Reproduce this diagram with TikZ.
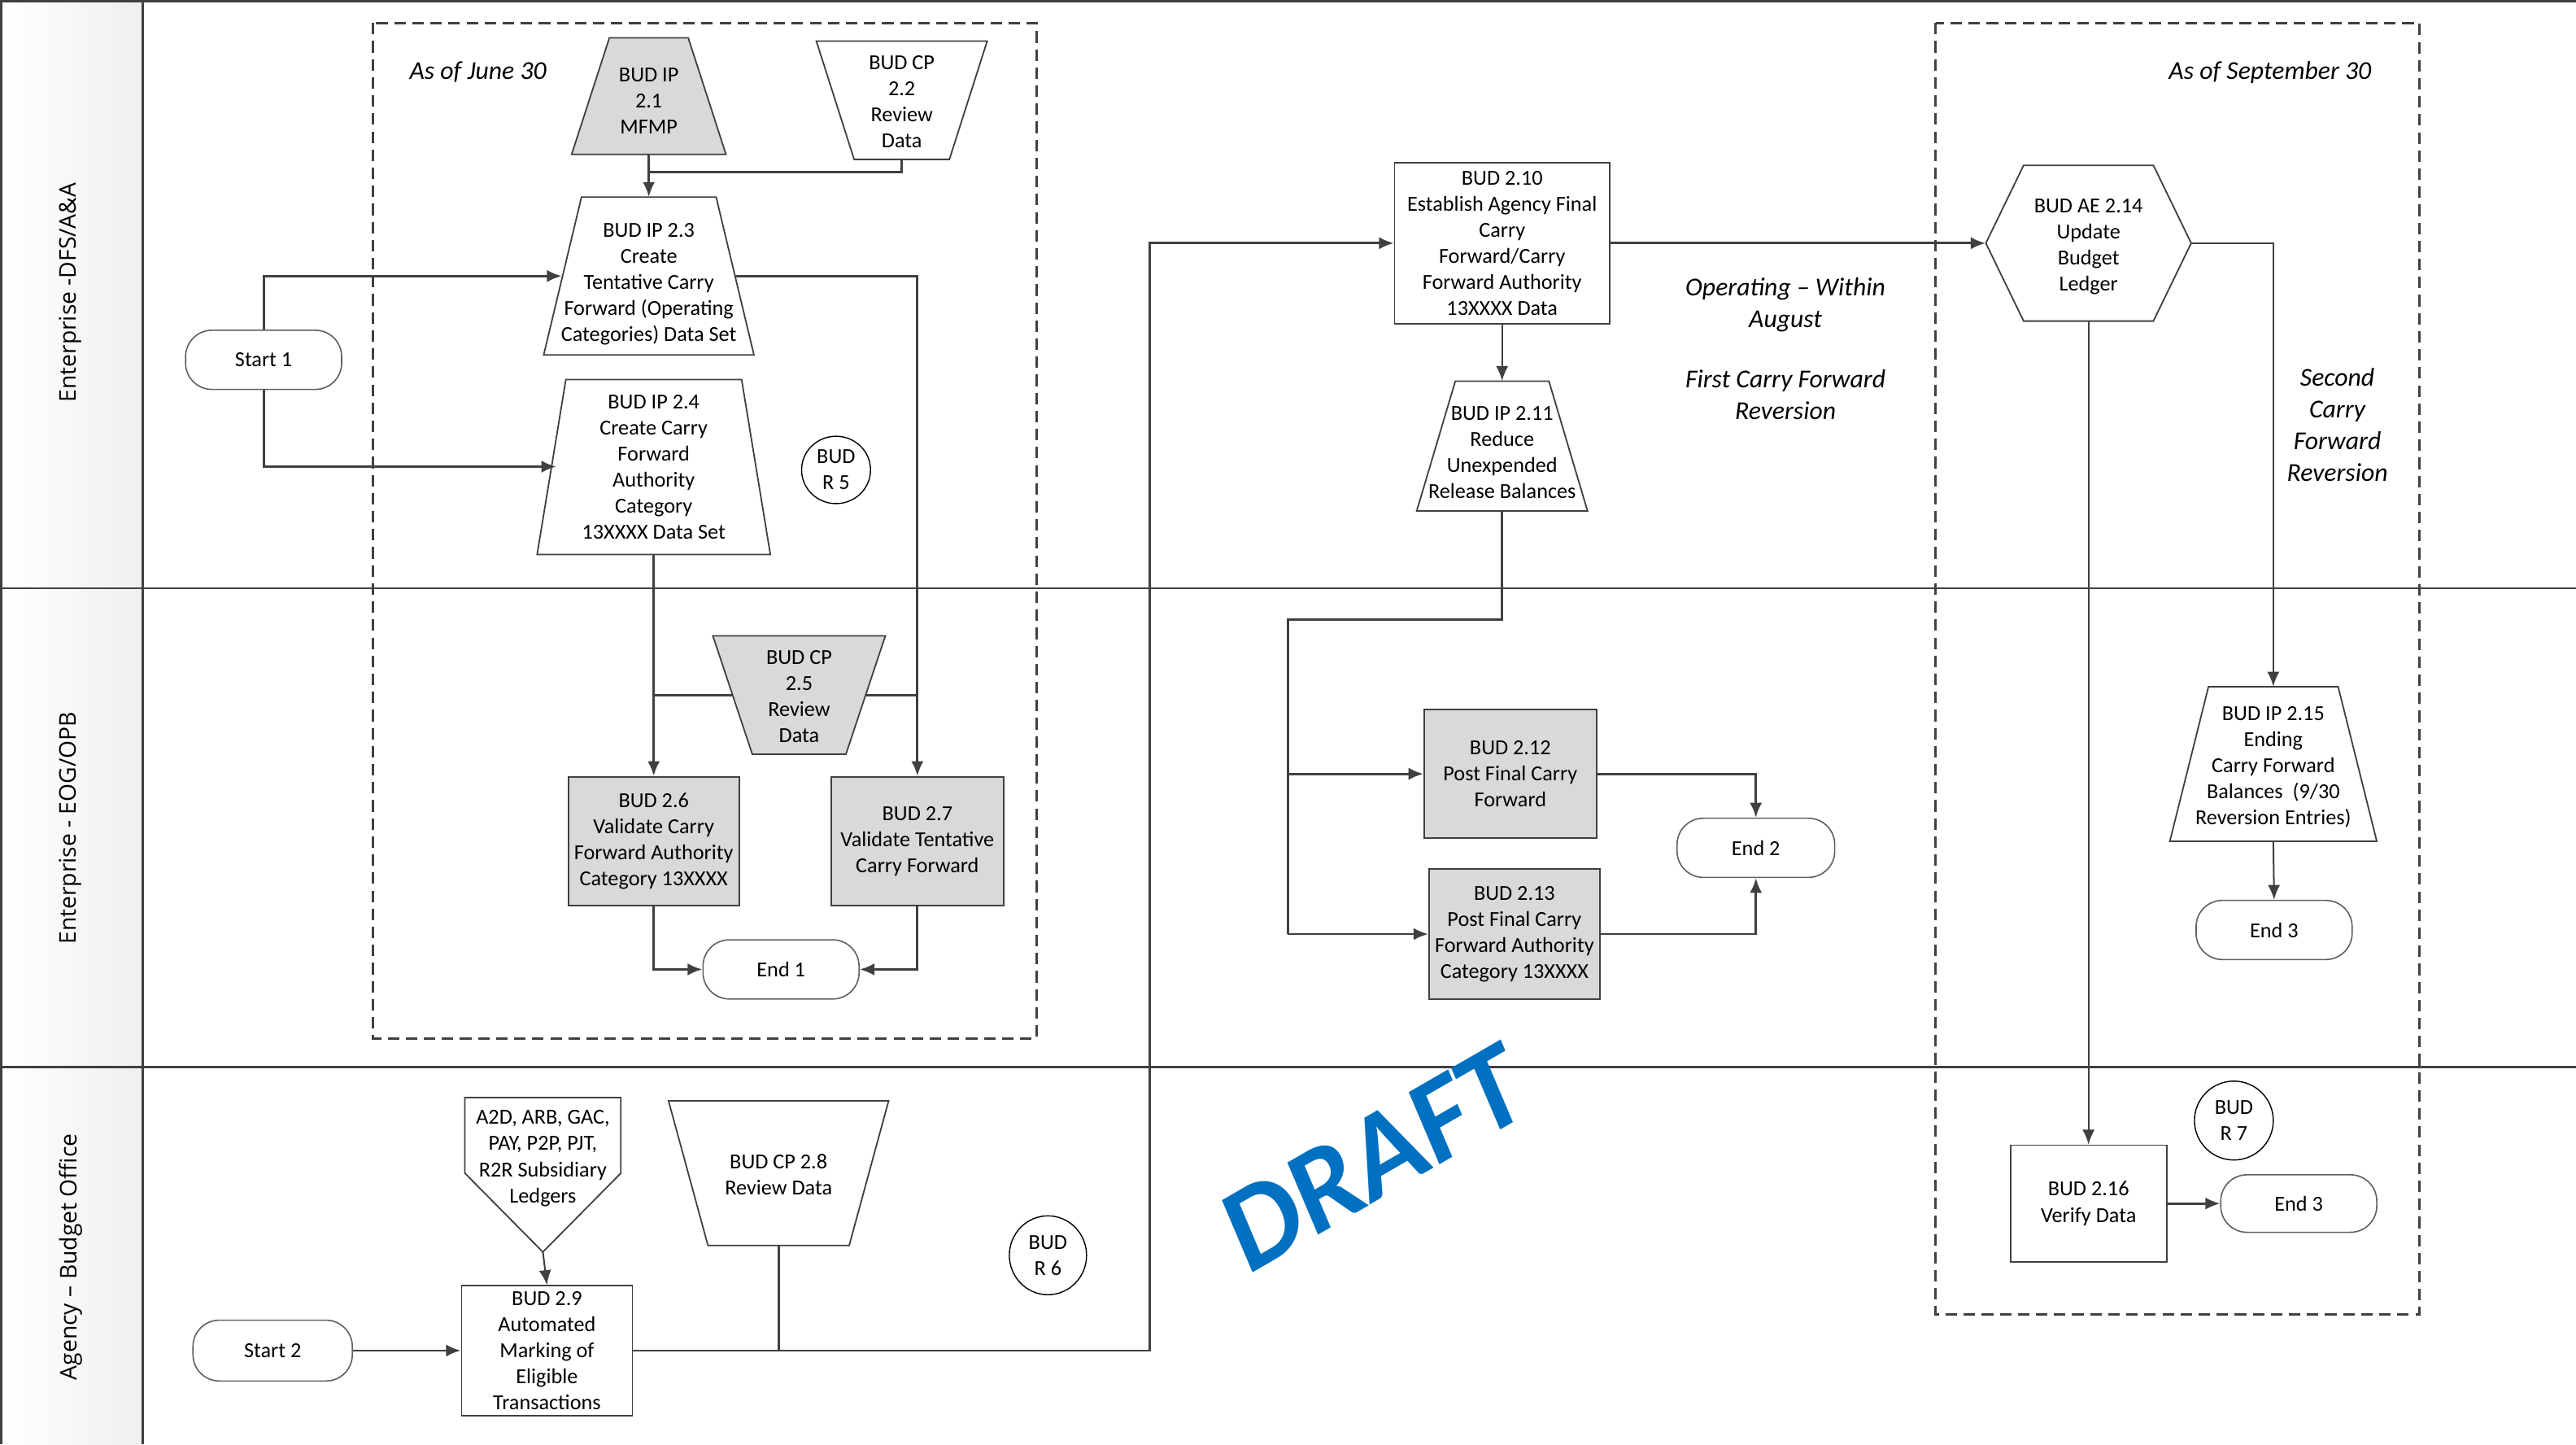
\documentclass[tikz,border=0pt]{standalone}
\usepackage{fontspec}
\setmainfont{Carlito}
\newfontfamily\lanefont[Ligatures=TeX]{Open Sans}
\usetikzlibrary{arrows.meta,calc,shapes.geometric}
\definecolor{ln}{HTML}{404040}
\definecolor{gfill}{HTML}{D9D9D9}
\definecolor{draftblue}{HTML}{0070C0}
\tikzset{
  txt/.style={inner sep=0pt, align=center, font=\fontsize{13}{15.9}\selectfont},
  shp/.style={draw=ln, line width=0.9pt},
  box/.style={txt, shp},
  term/.style={txt, draw=gray!75!black, line width=0.8pt, rounded corners=16pt, fill=white},
  circ/.style={txt, ellipse, draw=black, line width=0.7pt},
  conn/.style={draw=ln, line width=1.4pt},
  thinconn/.style={draw=ln, line width=1pt},
  arr/.style={-{Latex[length=9pt,width=7.5pt]}},
  lanel/.style={font=\lanefont\fontsize{14}{16}\selectfont, rotate=90, inner sep=0pt},
  anno/.style={align=center, inner sep=0pt, font=\fontsize{15.7}{19.3}\selectfont\itshape},
  lane/.style={draw=ln, line width=1.3pt},
  dbox/.style={draw=ln, line width=1.4pt, dash pattern=on 7pt off 4pt},
}
% [text offset]{name}{cx}{cy}{top width}{bottom width}{height}{fill}{text}
\newcommand\mytrap[9][0]{%
  \filldraw[shp,fill=#8] ({#3-#5/2},{#4-#7/2}) -- ({#3+#5/2},{#4-#7/2}) -- ({#3+#6/2},{#4+#7/2}) -- ({#3-#6/2},{#4+#7/2}) -- cycle;
  \node[txt,minimum width={#6},minimum height={#7}] (#2) at (#3,#4) {};
  \node[txt] (#2-t) at (#3,{#4+#1}) {#9};}
\begin{document}
\begin{tikzpicture}[x=1pt,y=-1pt]
\useasboundingbox (0,0) rectangle (1568.3,879);
% lanes
\shade[left color=white, right color=gray!12] (0,0) rectangle (87,879);
\draw[lane] (0,0.7) -- (1568.3,0.7);
\draw[lane] (0.6,0) -- (0.6,879);
\draw[lane] (87,0) -- (87,879);
\draw[lane] (0,358) -- (1568.3,358);
\draw[lane] (0,649.5) -- (1568.3,649.5);
\node[lanel] (lane1) at (43,178) {Enterprise -DFS/A\&A};
\node[lanel] (lane2) at (43,504) {Enterprise - EOG/OPB};
\node[lanel] (lane3) at (43,765) {Agency – Budget Office};
% dashed groups
\draw[dbox] (227,14) rectangle (631,632);
\draw[dbox] (1178.5,14) rectangle (1473,800);
% annotations
\node[anno] (a1) at (291,44) {As of June 30};
\node[anno] (a2) at (1382,44) {As of September 30};
\node[anno] (a3) at (1087,185.5) {Operating – Within\\August};
\node[anno] (a4) at (1087,240) {First Carry Forward\\Reversion};
\node[anno] (a5) at (1423,258.5) {Second\\Carry\\Forward\\Reversion};
% lane 1 shapes
\mytrap[3]{n21}{395}{58.5}{48}{94}{71}{gfill}{BUD IP\\2.1\\MFMP}
\mytrap[1]{n22}{549}{61}{104}{58}{72}{white}{BUD CP\\2.2\\Review\\Data}
\mytrap[5]{n23}{395}{168}{82}{128}{96}{white}{BUD IP 2.3\\Create\\Tentative Carry\\Forward (Operating\\Categories) Data Set}
\mytrap{n24}{398}{284.25}{107}{142}{106.5}{white}{BUD IP 2.4\\Create Carry\\Forward\\Authority\\Category\\13XXXX Data Set}
\node[term, minimum width=95, minimum height=36] (s1) at (160.5,219) {Start 1};
\node[circ, minimum width=42, minimum height=41] (r5) at (509,286) {BUD\\R 5};
% lane 2 shapes (group 1)
\mytrap[1]{n25}{486.5}{423}{105}{57}{72}{gfill}{BUD CP\\2.5\\Review\\Data}
\node[box, fill=gfill, minimum width=104, minimum height=78.5] (n26) at (398,512) {BUD 2.6\\Validate Carry\\Forward Authority\\Category 13XXXX};
\node[box, fill=gfill, minimum width=105, minimum height=78.5] (n27) at (558.5,512) {BUD 2.7\\Validate Tentative\\Carry Forward};
\node[term, minimum width=95, minimum height=36] (e1) at (475.5,590) {End 1};
% lane 3 shapes
\filldraw[shp,fill=white] (283,668) -- (378,668) -- (378,714) -- (330.5,762) -- (283,714) -- cycle;
\node[txt] (noff) at (330.5,705) {A2D, ARB, GAC,\\PAY, P2P, PJT,\\R2R Subsidiary\\Ledgers};
\coordinate (offtip) at (330.5,762);
\node[box, fill=white, minimum width=104, minimum height=79] (n29) at (333,822) {BUD 2.9\\Automated\\Marking of\\Eligible\\Transactions};
\node[term, minimum width=97, minimum height=37] (s2) at (166,822) {Start 2};
\mytrap[1]{n28}{474}{714}{134}{86}{88}{white}{BUD CP 2.8\\Review Data}
\node[circ, minimum width=47, minimum height=48] (r6) at (638,764) {BUD\\R 6};
% middle
\node[box, fill=white, minimum width=131, minimum height=98] (n210) at (914.5,148) {BUD 2.10\\Establish Agency Final\\Carry\\Forward/Carry\\Forward Authority\\13XXXX Data};
\mytrap[4]{n211}{914.5}{271.5}{57}{104}{79}{white}{BUD IP 2.11\\Reduce\\Unexpended\\Release Balances}
\node[box, fill=gfill, minimum width=105, minimum height=78] (n212) at (919.5,471) {BUD 2.12\\Post Final Carry\\Forward};
\node[box, fill=gfill, minimum width=104, minimum height=79] (n213) at (922,568.5) {BUD 2.13\\Post Final Carry\\Forward Authority\\Category 13XXXX};
\node[term, minimum width=96, minimum height=36] (e2) at (1069,516) {End 2};
% right group
\filldraw[shp,fill=white] (1209,148) -- (1232,100.6) -- (1311,100.6) -- (1334,148) -- (1311,195.4) -- (1232,195.4) -- cycle;
\node[txt, minimum width=125, minimum height=94.8] (n214) at (1271.5,148) {};
\node[txt] (n214-t) at (1271.5,150) {BUD AE 2.14\\Update\\Budget\\Ledger};
\mytrap[2]{n215}{1384}{465}{79}{126}{94}{white}{BUD IP 2.15\\Ending\\Carry Forward\\Balances~~(9/30\\Reversion Entries)}
\node[term, minimum width=95, minimum height=36] (e3a) at (1384.5,566) {End 3};
\node[box, fill=white, minimum width=95, minimum height=71] (n216) at (1271.5,732.5) {BUD 2.16\\Verify Data};
\node[term, minimum width=95, minimum height=35] (e3b) at (1399.5,732.5) {End 3};
\node[circ, minimum width=48, minimum height=48] (r7) at (1360,682) {BUD\\R 7};
% connector helper points on slanted sides
\coordinate (a23) at (342,168);
\coordinate (a24) at (338.6,284);
\coordinate (b23) at (447,168);
\coordinate (j22) at (395,104.6);
\coordinate (l25) at (446,423);
\coordinate (r25) at (527,423);
\coordinate (c29) at (700,822);
\coordinate (c211) at (784,377);
% connectors
\draw[conn,arr] (n21.south) -- (n23.north);
\draw[conn] (n22.south) |- (j22);
\draw[conn,arr] (s1.north) |- (a23);
\draw[conn,arr] (s1.south) |- (a24);
\draw[conn,arr] (b23) -| (n27.north);
\draw[conn,arr] (n24.south) -- (n26.north);
\draw[conn] (l25) -- (l25 -| n26.north);
\draw[conn] (r25) -- (r25 -| n27.north);
\draw[conn,arr] (n26.south) |- (e1.west);
\draw[conn,arr] (n27.south) |- (e1.east);
\draw[thinconn,arr] (offtip) -- (n29.north);
\draw[conn,arr] (s2.east) -- (n29.west);
\draw[conn] (n28.south) -- (n28.south |- n29.east);
\draw[conn,arr] (n29.east) -- (c29) |- (n210.west);
\draw[thinconn,arr] (n210.south) -- (n211.north);
\draw[conn,arr] (n210.east) -- (n214.west);
\draw[conn] (n211.south) |- (c211) -- (c211 |- n213.west);
\draw[conn,arr] (c211 |- n212.west) -- (n212.west);
\draw[conn,arr] (c211 |- n213.west) -- (n213.west);
\draw[conn,arr] (n212.east) -| (e2.north);
\draw[conn,arr] (n213.east) -| (e2.south);
\draw[thinconn,arr] (n214.east) -| (n215.north);
\draw[thinconn,arr] (n215.south) -- (e3a.north);
\draw[thinconn,arr] (n214.south) -- (n216.north);
\draw[conn,arr] (n216.east) -- (e3b.west);
% watermark
\node[rotate=30, inner sep=0pt, text=draftblue, font=\fontsize{73}{73}\selectfont\bfseries\itshape] (draft) at (836,705) {DRAFT};
\end{tikzpicture}
\end{document}
